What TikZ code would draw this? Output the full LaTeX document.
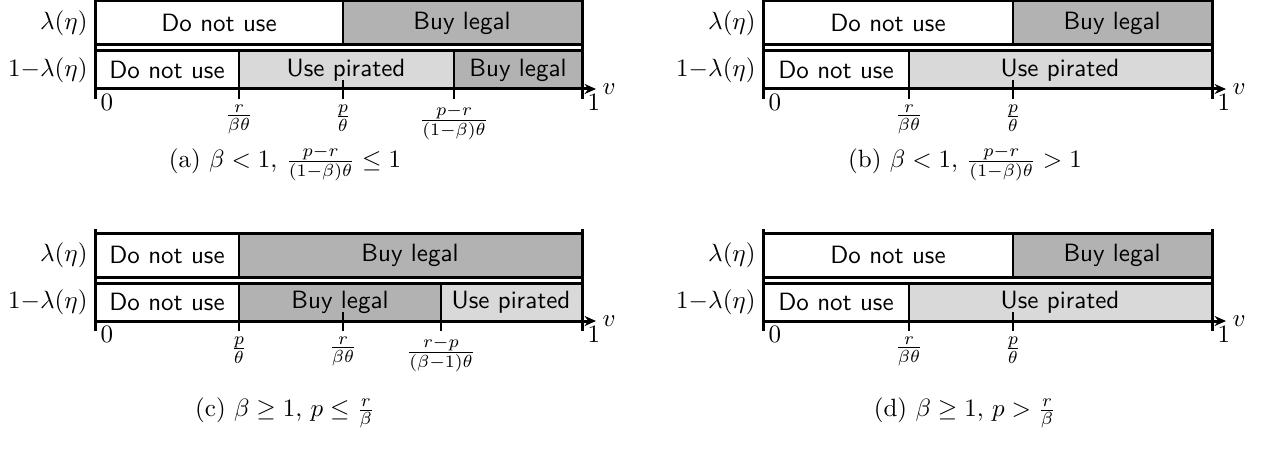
\documentclass[tikz,border=0pt]{standalone}
\usepackage{amsmath,amssymb}
\usepackage{tikz}
\usetikzlibrary{arrows.meta}
\definecolor{buygray}{gray}{0.70}
\definecolor{pirgray}{gray}{0.85}

\begin{document}
\begin{tikzpicture}[
  x=0.4pt, y=-0.4pt,
  seg/.style={font=\sffamily, inner sep=0pt},
  rowlab/.style={anchor=east, inner sep=0pt},
  rowline/.style={line width=1.2pt},
  endline/.style={line width=1.2pt},
  split/.style={line width=0.9pt},
  minortick/.style={line width=0.6pt},
  axisarrow/.style={line width=1.2pt, -{Stealth[length=1.6mm, width=1.4mm]}},
  ticklab/.style={below, inner sep=2pt},
  buy/.style={fill=buygray},
  pir/.style={fill=pirgray}
]
\useasboundingbox (0,0) rectangle (1263,466);

% (a)
\fill[buy] (343,1) rectangle (582,45);
\fill[pir] (239,51) rectangle (454,89);
\fill[buy] (454,51) rectangle (582,89);
\draw[rowline] (95,1) -- (582,1) (95,45) -- (582,45) (95,51) -- (582,51);
\draw[split] (343,1) -- (343,45);
\draw[split] (239,51) -- (239,99) (454,51) -- (454,99);
\draw[minortick] (343,80) -- (343,99);
\draw[endline] (95,-3) -- (95,99) (582,-3) -- (582,99);
\draw[axisarrow] (95,89) -- (596,89) node[right, inner sep=2pt] (va) {$v$};
\node[rowlab] (la) at (88,23) {$\lambda(\eta)$};
\node[rowlab] (lb) at (88,70) {$1{-}\lambda(\eta)$};
\node[seg] (a11) at (219,23) {Do not use};
\node[seg] (a12) at (462,23) {Buy legal};
\node[seg] (a21) at (167,70) {Do not use};
\node[seg] (a22) at (346,70) {Use pirated};
\node[seg] (a23) at (518,70) {Buy legal};
\node[below right, inner sep=2pt] (a0) at (95,89) {$0$};
\node[below right, inner sep=2pt] (a1) at (582,89) {$1$};
\node[ticklab] (ta1) at (239,99) {$\frac{r}{\beta\theta}$};
\node[ticklab] (ta2) at (343,99) {$\frac{p}{\theta}$};
\node[ticklab] (ta3) at (454,99) {$\frac{p-r}{(1-\beta)\theta}$};
\node (capa) at (285,163) {(a) $\beta<1$, $\frac{p-r}{(1-\beta)\theta}\le 1$};

% (b)
\fill[buy] (1013,1) rectangle (1212,45);
\fill[pir] (909,51) rectangle (1212,89);
\draw[rowline] (763,1) -- (1212,1) (763,45) -- (1212,45) (763,51) -- (1212,51);
\draw[split] (1013,1) -- (1013,45);
\draw[split] (909,51) -- (909,99);
\draw[minortick] (1013,80) -- (1013,99);
\draw[endline] (763,-3) -- (763,99) (1212,-3) -- (1212,99);
\draw[axisarrow] (763,89) -- (1226,89) node[right, inner sep=2pt] (vb) {$v$};
\node[rowlab] (lc) at (756,23) {$\lambda(\eta)$};
\node[rowlab] (ld) at (756,70) {$1{-}\lambda(\eta)$};
\node[seg] (b11) at (888,23) {Do not use};
\node[seg] (b12) at (1112,23) {Buy legal};
\node[seg] (b21) at (836,70) {Do not use};
\node[seg] (b22) at (1060,70) {Use pirated};
\node[below right, inner sep=2pt] (b0) at (763,89) {$0$};
\node[below right, inner sep=2pt] (b1) at (1212,89) {$1$};
\node[ticklab] (tb1) at (909,99) {$\frac{r}{\beta\theta}$};
\node[ticklab] (tb2) at (1013,99) {$\frac{p}{\theta}$};
\node (capb) at (965,163) {(b) $\beta<1$, $\frac{p-r}{(1-\beta)\theta}>1$};

% (c)
\fill[buy] (239,233) rectangle (582,277);
\fill[buy] (239,283) rectangle (441,321);
\fill[pir] (441,283) rectangle (582,321);
\draw[rowline] (95,233) -- (582,233) (95,277) -- (582,277) (95,283) -- (582,283);
\draw[split] (239,233) -- (239,277) (239,283) -- (239,331) (441,283) -- (441,331);
\draw[minortick] (343,312) -- (343,331);
\draw[endline] (95,229) -- (95,331) (582,229) -- (582,331);
\draw[axisarrow] (95,321) -- (596,321) node[right, inner sep=2pt] (vc) {$v$};
\node[rowlab] (le) at (88,255) {$\lambda(\eta)$};
\node[rowlab] (lf) at (88,302) {$1{-}\lambda(\eta)$};
\node[seg] (c11) at (167,255) {Do not use};
\node[seg] (c12) at (410,255) {Buy legal};
\node[seg] (c21) at (167,302) {Do not use};
\node[seg] (c22) at (340,302) {Buy legal};
\node[seg] (c23) at (511,302) {Use pirated};
\node[below right, inner sep=2pt] (c0) at (95,321) {$0$};
\node[below right, inner sep=2pt] (c1) at (582,321) {$1$};
\node[ticklab] (tc1) at (239,331) {$\frac{p}{\theta}$};
\node[ticklab] (tc2) at (343,331) {$\frac{r}{\beta\theta}$};
\node[ticklab] (tc3) at (441,331) {$\frac{r-p}{(\beta-1)\theta}$};
\node (capc) at (285,413) {(c) $\beta\ge 1$, $p\le\frac{r}{\beta}$};

% (d)
\fill[buy] (1013,233) rectangle (1212,277);
\fill[pir] (909,283) rectangle (1212,321);
\draw[rowline] (763,233) -- (1212,233) (763,277) -- (1212,277) (763,283) -- (1212,283);
\draw[split] (1013,233) -- (1013,277);
\draw[split] (909,283) -- (909,331);
\draw[minortick] (1013,312) -- (1013,331);
\draw[endline] (763,229) -- (763,331) (1212,229) -- (1212,331);
\draw[axisarrow] (763,321) -- (1226,321) node[right, inner sep=2pt] (vd) {$v$};
\node[rowlab] (lg) at (756,255) {$\lambda(\eta)$};
\node[rowlab] (lh) at (756,302) {$1{-}\lambda(\eta)$};
\node[seg] (d11) at (888,255) {Do not use};
\node[seg] (d12) at (1112,255) {Buy legal};
\node[seg] (d21) at (836,302) {Do not use};
\node[seg] (d22) at (1060,302) {Use pirated};
\node[below right, inner sep=2pt] (d0) at (763,321) {$0$};
\node[below right, inner sep=2pt] (d1) at (1212,321) {$1$};
\node[ticklab] (td1) at (909,331) {$\frac{r}{\beta\theta}$};
\node[ticklab] (td2) at (1013,331) {$\frac{p}{\theta}$};
\node (capd) at (965,413) {(d) $\beta\ge 1$, $p>\frac{r}{\beta}$};
\end{tikzpicture}
\end{document}
